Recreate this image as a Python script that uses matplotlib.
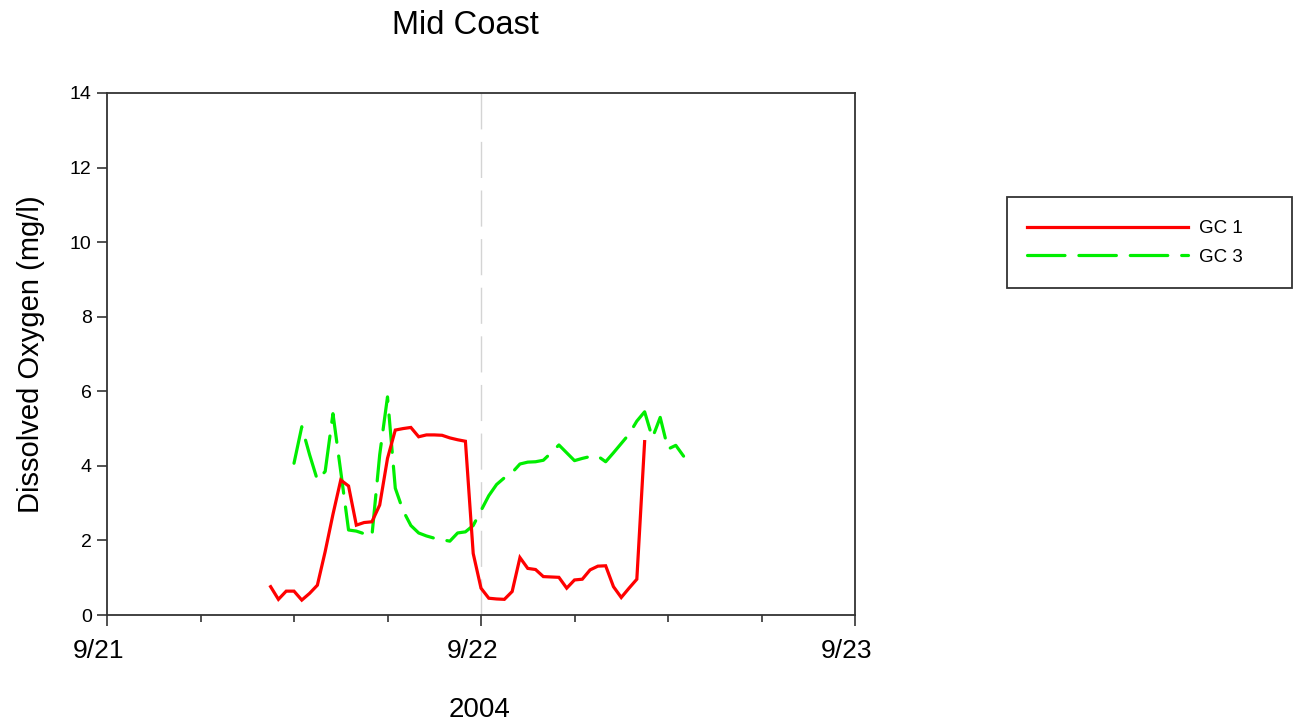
import matplotlib
matplotlib.use("Agg")
import matplotlib.pyplot as plt
import matplotlib.dates as mdates
import matplotlib.transforms as mtransforms
from matplotlib.patches import Rectangle
import pandas as pd

plt.rcParams["font.family"] = ["Liberation Sans", "DejaVu Sans"]
plt.rcParams["lines.scale_dashes"] = False

# Dissolved oxygen (mg/l), half-hourly readings
gc1_start = "2004-09-21 10:30"
gc1_values = [0.76, 0.42, 0.64, 0.64, 0.40, 0.58, 0.80, 1.70, 2.70, 3.62,
              3.46, 2.41, 2.48, 2.50, 2.95, 4.20, 4.96, 5.00, 5.03, 4.78,
              4.83, 4.83, 4.82, 4.75, 4.70, 4.66, 1.65, 0.72, 0.45, 0.43,
              0.42, 0.63, 1.54, 1.25, 1.22, 1.03, 1.02, 1.01, 0.72, 0.94,
              0.96, 1.21, 1.31, 1.32, 0.76, 0.47, 0.72, 0.96, 4.65]

gc3_start = "2004-09-21 12:00"
gc3_values = [4.07, 5.05, 4.30, 3.62, 3.85, 5.40, 3.85, 2.28, 2.25, 2.18,
              2.12, 4.30, 5.85, 3.40, 2.80, 2.40, 2.20, 2.12, 2.06, 2.02,
              1.98, 2.20, 2.23, 2.40, 2.80, 3.20, 3.50, 3.68, 3.82, 4.05,
              4.10, 4.11, 4.15, 4.35, 4.56, 4.35, 4.14, 4.20, 4.25, 4.26,
              4.11, 4.35, 4.60, 4.85, 5.20, 5.45, 4.75, 5.30, 4.45, 4.55,
              4.26]

series_labels = ["GC 1", "GC 3"]
x_start, x_end = "2004-09-21", "2004-09-23"
y_ticks = [0, 2, 4, 6, 8, 10, 12, 14]

gc1_times = pd.date_range(gc1_start, periods=len(gc1_values), freq="30min")
gc3_times = pd.date_range(gc3_start, periods=len(gc3_values), freq="30min")

W, H = 1294, 726
fig = plt.figure(figsize=(W / 100, H / 100), dpi=100)
ax = fig.add_axes([107 / W, 1 - 615 / H, (855 - 107) / W, (615 - 93) / H])

# day divider
ax.axvline(pd.Timestamp("2004-09-22"), color="#d4d4d4", lw=1.0,
           dashes=(26, 9), zorder=1)

l1, = ax.plot(gc1_times, gc1_values, color="#ff0000", lw=2.3,
              solid_joinstyle="miter", zorder=3, label=series_labels[0])
l3, = ax.plot(gc3_times, gc3_values, color="#00ee00", lw=2.3,
              dashes=(27, 10), dash_capstyle="round", zorder=2,
              label=series_labels[1])

ax.set_xlim(pd.Timestamp(x_start), pd.Timestamp(x_end))
ax.set_ylim(0, 14)
ax.set_yticks(y_ticks)

ax.xaxis.set_major_locator(mdates.DayLocator())
ax.xaxis.set_minor_locator(mdates.HourLocator(byhour=[6, 12, 18]))
ax.xaxis.set_major_formatter(
    plt.FuncFormatter(lambda v, p: f"{mdates.num2date(v).month}/{mdates.num2date(v).day}"))

for s in ax.spines.values():
    s.set_color("#333333")
    s.set_linewidth(1.3)

ax.tick_params(axis="x", which="major", direction="out", length=8, width=1.2,
               color="#333333", labelsize=19, pad=9)
ax.tick_params(axis="x", which="minor", direction="out", length=5, width=1.2,
               color="#333333")
ax.tick_params(axis="y", direction="out", length=7, width=1.2,
               color="#333333", labelsize=14, pad=4)

shift = mtransforms.ScaledTranslation(-8 / 100, 0, fig.dpi_scale_trans)
for lab in ax.get_xticklabels():
    lab.set_transform(lab.get_transform() + shift)

ax.set_ylabel("Dissolved Oxygen (mg/l)", fontsize=21, labelpad=18)
fig.text(480 / W, 1 - 710 / H, "2004", fontsize=20, ha="center", va="center")
fig.text(465 / W, 1 - 26 / H, "Mid Coast", fontsize=23.5, ha="center", va="center")

# legend box
fig.patches.append(Rectangle((1007 / W, 1 - 288 / H), (1292 - 1007) / W, (288 - 197) / H,
                             transform=fig.transFigure, fill=False,
                             edgecolor="#333333", lw=1.3))
fig.legend(handles=[l1, l3], loc="upper left",
           bbox_to_anchor=(1027 / W, 1 - 220 / H), frameon=False,
           fontsize=13.5, handlelength=8.6, handletextpad=0.55,
           labelspacing=0.62, borderpad=0, borderaxespad=0)

fig.savefig("out.png", dpi=100)
